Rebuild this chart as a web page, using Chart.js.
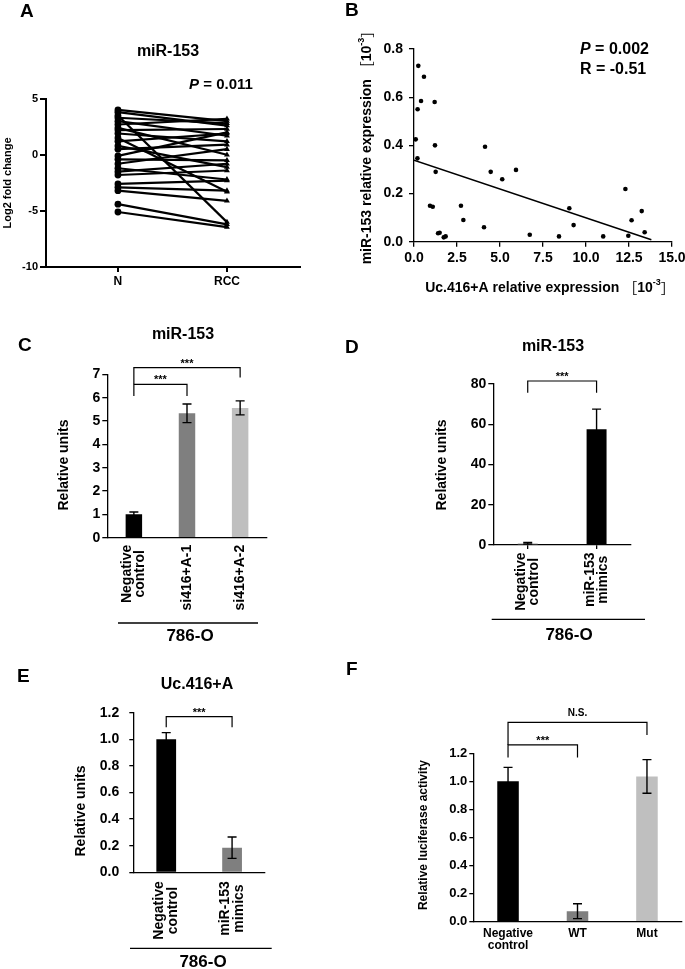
<!DOCTYPE html>
<html>
<head>
<meta charset="utf-8">
<script src="https://cdn.jsdelivr.net/npm/chart.js@4.4.0/dist/chart.umd.min.js"></script>
<style>
  html, body { margin: 0; padding: 0; background: #fff; }
  #wrap { position: relative; width: 685px; height: 969px; overflow: hidden; }
  #wrap canvas { position: absolute; left: 0; top: 0; }
</style>
</head>
<body>
<div id="wrap"></div>
<script>
// ===== data =====
// A: paired log2 fold change, N vs RCC
const pairLabels = ['N', 'RCC'];
const nValues   = [4.0, 3.8, 3.5, 3.3, 3.0, 2.7, 2.4, 2.2, 1.9, 1.5, 1.2, 0.8, 0.5, -0.1, -0.4, -0.8, -1.2, -1.5, -1.8, -2.6, -2.9, -3.2, -4.4, -5.1];
const rccValues = [3.0, 2.6, -6.0, 2.8, 1.7, 3.2, 0.0, 2.3, 1.2, -3.3, 1.9, -1.1, 0.9, 2.0, -0.5, 0.5, -2.2, -0.8, -1.4, -2.3, -3.2, -4.1, -6.2, -6.45];

// B: scatter, Uc.416+A vs miR-153
const scatterX = [0.25, 0.58, 0.41, 0.21, 1.2, 0.1, 0.2, 1.22, 1.26, 0.93, 1.09, 1.4, 1.49, 1.73, 1.84, 2.73, 2.87, 4.13, 4.46, 5.13, 5.93, 4.07, 6.73, 8.43, 9.03, 9.28, 11.0, 12.29, 12.46, 12.65, 13.24, 13.41];
const scatterY = [0.73, 0.685, 0.584, 0.55, 0.58, 0.425, 0.346, 0.40, 0.29, 0.149, 0.145, 0.035, 0.037, 0.018, 0.022, 0.149, 0.09, 0.394, 0.29, 0.259, 0.298, 0.06, 0.029, 0.022, 0.139, 0.069, 0.022, 0.219, 0.025, 0.089, 0.127, 0.039];
const trendX = [0, 13.8];
const trendY = [0.338, 0.008];

// C: miR-153 after si416+A
const cLabels = [['Negative', 'control'], ['si416+A-1'], ['si416+A-2']];
const cMeans  = [1.0, 5.33, 5.56];
const cErrors = [0.1, 0.4, 0.3];
const cBrackets = [
  { from: 0, to: 1, top: 6.57, leftEnd: 6.07, rightEnd: 6.07, label: '***' },
  { from: 0, to: 2, top: 7.29, leftEnd: 6.57, rightEnd: 6.86, label: '***' }
];

// D: miR-153 after mimics
const dLabels = [['Negative', 'control'], ['miR-153', 'mimics']];
const dMeans  = [0.9, 57.5];
const dErrors = [0.4, 10];
const dBrackets = [{ from: 0, to: 1, top: 81.5, leftEnd: 75.7, rightEnd: 75.7, label: '***' }];

// E: Uc.416+A after mimics
const eLabels = [['Negative', 'control'], ['miR-153', 'mimics']];
const eMeans  = [1.0, 0.185];
const eErrors = [0.05, 0.08];
const eBrackets = [{ from: 0, to: 1, top: 1.17, leftEnd: 1.09, rightEnd: 1.09, label: '***' }];

// F: luciferase
const fLabels = [['Negative', 'control'], ['WT'], ['Mut']];
const fMeans  = [1.0, 0.075, 1.035];
const fErrors = [0.1, 0.053, 0.12];
const fBrackets = [
  { from: 0, to: 2, top: 1.42, leftEnd: 1.26, rightEnd: 1.33, label: 'N.S.' },
  { from: 0, to: 1, top: 1.26, leftEnd: 1.17, rightEnd: 1.17, label: '***' }
];

const BLACK = '#000000', GRAY = '#7f7f7f', LIGHT = '#bfbfbf';

// ===== helpers =====
const CW = 800, CH = 1000;
const FONT = "'Liberation Sans', Arial, Helvetica, sans-serif";
const CJK = "'Noto Sans CJK JP', 'Noto Sans CJK SC', sans-serif";

function fontOf(p) {
  return (p.italic ? 'italic ' : '') + (p.weight || 'bold') + ' ' + p.size + 'px ' + (p.family || FONT);
}

function drawRich(ctx, parts, x, y, align, rot) {
  ctx.save();
  ctx.translate(x, y);
  if (rot) ctx.rotate(rot);
  let total = 0;
  parts.forEach(p => { ctx.font = fontOf(p); p.w = ctx.measureText(p.t).width; total += p.w; });
  let cx = align === 'center' ? -total / 2 : align === 'right' ? -total : 0;
  ctx.textBaseline = 'middle';
  ctx.textAlign = 'left';
  ctx.fillStyle = '#000';
  parts.forEach(p => { ctx.font = fontOf(p); ctx.fillText(p.t, cx, p.dy || 0); cx += p.w; });
  ctx.restore();
}

const t = (s, size, extra) => [Object.assign({ t: s, size }, extra || {})];

const annot = {
  id: 'annot',
  afterDraw(chart) {
    const o = chart.options.plugins.annot || {};
    const ctx = chart.ctx;
    const xs = chart.scales.x, ys = chart.scales.y;
    const area = chart.chartArea;
    ctx.save();
    ctx.strokeStyle = '#000';
    ctx.fillStyle = '#000';

    // error bars
    if (o.errors) {
      ctx.lineWidth = 1.4;
      o.errors.means.forEach((m, i) => {
        const e = o.errors.errs[i];
        const x = xs.getPixelForValue(i);
        const yt = ys.getPixelForValue(m + e), yb = ys.getPixelForValue(m - e);
        ctx.beginPath();
        ctx.moveTo(x, yt); ctx.lineTo(x, yb);
        ctx.moveTo(x - 4.5, yt); ctx.lineTo(x + 4.5, yt);
        ctx.moveTo(x - 4.5, yb); ctx.lineTo(x + 4.5, yb);
        ctx.stroke();
      });
    }

    // significance brackets
    (o.brackets || []).forEach(b => {
      const xa = xs.getPixelForValue(b.from), xb = xs.getPixelForValue(b.to);
      const yt = ys.getPixelForValue(b.top);
      ctx.lineWidth = 1.2;
      ctx.beginPath();
      ctx.moveTo(xa, ys.getPixelForValue(b.leftEnd));
      ctx.lineTo(xa, yt);
      ctx.lineTo(xb, yt);
      ctx.lineTo(xb, ys.getPixelForValue(b.rightEnd));
      ctx.stroke();
      const stars = b.label === '***';
      drawRich(ctx, t(b.label, stars ? 11 : 10), (xa + xb) / 2, yt - (stars ? 4 : 9), 'center');
    });

    // category labels
    if (o.cats) {
      const c = o.cats;
      ctx.font = fontOf({ size: c.size });
      c.labels.forEach((lines, i) => {
        const x = xs.getPixelForValue(i);
        const top = area.bottom + c.gap;
        ctx.save();
        ctx.textAlign = 'center';
        ctx.textBaseline = 'middle';
        if (c.rot) {
          const maxW = Math.max(...lines.map(l => ctx.measureText(l).width));
          ctx.translate(x, top + maxW / 2);
          ctx.rotate(-Math.PI / 2);
          lines.forEach((l, k) => ctx.fillText(l, 0, (k - (lines.length - 1) / 2) * c.lh));
        } else {
          lines.forEach((l, k) => ctx.fillText(l, x, top + k * c.lh));
        }
        ctx.restore();
      });
    }

    // cell-line group line
    if (o.group) {
      const g = o.group;
      ctx.lineWidth = 1.3;
      ctx.beginPath();
      ctx.moveTo(g.x0, g.y); ctx.lineTo(g.x1, g.y);
      ctx.stroke();
      drawRich(ctx, t(g.label, 17), g.lx, g.ly, 'center');
    }

    // free texts
    (o.texts || []).forEach(tx => drawRich(ctx, tx.parts, tx.x, tx.y, tx.align || 'center', tx.rot || 0));
    ctx.restore();
  }
};

function makeChart(area, yW, xH, config) {
  const cv = document.createElement('canvas');
  cv.width = CW; cv.height = CH;
  cv.style.width = CW + 'px'; cv.style.height = CH + 'px';
  document.getElementById('wrap').appendChild(cv);
  const o = config.options;
  o.responsive = false;
  o.animation = false;
  o.devicePixelRatio = 1;
  o.layout = { padding: { left: area[0] - yW, top: area[1], right: CW - area[2], bottom: CH - area[3] - xH } };
  o.scales.x.afterFit = s => { s.height = xH; };
  o.scales.y.afterFit = s => { s.width = yW; };
  o.plugins = Object.assign({ legend: { display: false }, tooltip: { enabled: false } }, o.plugins);
  config.plugins = [annot];
  return new Chart(cv, config);
}

function yAxis(min, max, step, size, tickLen, pad, decimals, bw) {
  return {
    min, max,
    border: { color: '#000', width: bw || 1.3 },
    grid: { drawOnChartArea: false, drawTicks: true, tickLength: tickLen, color: '#000', lineWidth: bw || 1.3 },
    ticks: {
      stepSize: step, color: '#000', padding: pad,
      font: { family: FONT, size, weight: 'bold' },
      callback: v => decimals ? Number(v).toFixed(decimals) : String(Math.round(v))
    }
  };
}

function catAxis(tickLen, atCenters) {
  return {
    type: 'category',
    offset: true,
    border: { color: '#000', width: 1.3 },
    grid: { drawOnChartArea: false, drawTicks: tickLen > 0, tickLength: tickLen, color: '#000', lineWidth: 1.3, offset: !atCenters },
    ticks: { display: false }
  };
}

function barDataset(means, colors, pct) {
  return {
    data: means,
    backgroundColor: colors,
    borderWidth: 0,
    barPercentage: pct,
    categoryPercentage: 1
  };
}

// ===== A =====
makeChart([46, 98.7, 300, 267], 40, 30, {
  type: 'line',
  data: {
    datasets: nValues.map((n, i) => ({
      data: [{ x: 0, y: n }, { x: 1, y: rccValues[i] }],
      borderColor: BLACK, backgroundColor: BLACK, borderWidth: 2.2,
      pointStyle: ['circle', 'triangle'], pointRadius: 3.4, pointBorderWidth: 0
    }))
  },
  options: {
    scales: {
      x: {
        type: 'linear', min: -0.66, max: 1.67,
        afterBuildTicks: s => { s.ticks = pairLabels.map((_, i) => ({ value: i })); },
        border: { color: '#000', width: 2 },
        grid: { drawOnChartArea: false, drawTicks: true, tickLength: 5, color: '#000', lineWidth: 2 },
        ticks: { color: '#000', padding: 2, font: { family: FONT, size: 12, weight: 'bold' }, callback: v => pairLabels[v] }
      },
      y: yAxis(-10, 5, 5, 11, 6, 2, 0, 2)
    },
    plugins: {
      annot: {
        texts: [
          { parts: t('A', 19), x: 20, y: 12, align: 'left' },
          { parts: t('miR-153', 16), x: 168, y: 52 },
          { parts: [{ t: 'P', size: 15, italic: true }, { t: ' = 0.011', size: 15 }], x: 221, y: 85 },
          { parts: t('Log2 fold change', 11), x: 8, y: 183, rot: -Math.PI / 2 }
        ]
      }
    }
  }
});

// ===== B =====
const expParts = (lead) => [
  { t: lead + ' ', size: 14 },
  { t: '［', size: 14, family: CJK, weight: 'normal' },
  { t: '10', size: 14 },
  { t: '-3', size: 9, dy: -5 },
  { t: '］', size: 14, family: CJK, weight: 'normal' }
];
makeChart([414, 49, 672, 241.7], 40, 30, {
  type: 'scatter',
  data: {
    datasets: [
      {
        data: scatterX.map((x, i) => ({ x, y: scatterY[i] })),
        backgroundColor: BLACK, pointRadius: 2.3, pointBorderWidth: 0
      },
      {
        type: 'line',
        data: trendX.map((x, i) => ({ x, y: trendY[i] })),
        borderColor: BLACK, borderWidth: 1.5, pointRadius: 0
      }
    ]
  },
  options: {
    scales: {
      x: {
        type: 'linear', min: 0, max: 15,
        border: { color: '#000', width: 1.3 },
        grid: { drawOnChartArea: false, drawTicks: true, tickLength: 5, color: '#000', lineWidth: 1.3 },
        ticks: { stepSize: 2.5, color: '#000', padding: 3, font: { family: FONT, size: 14, weight: 'bold' }, callback: v => Number(v).toFixed(1) }
      },
      y: yAxis(0, 0.8, 0.2, 14, 5, 6, 1)
    },
    plugins: {
      annot: {
        texts: [
          { parts: t('B', 19), x: 345, y: 11, align: 'left' },
          { parts: [{ t: 'P', size: 16, italic: true }, { t: ' = 0.002', size: 16 }], x: 580, y: 50, align: 'left' },
          { parts: t('R = -0.51', 16), x: 580, y: 70, align: 'left' },
          { parts: expParts('miR-153 relative expression'), x: 367, y: 144, rot: -Math.PI / 2 },
          { parts: expParts('Uc.416+A relative expression'), x: 550, y: 288 }
        ]
      }
    }
  }
});

// ===== C =====
makeChart([107.3, 374.3, 266.7, 537.7], 40, 10, {
  type: 'bar',
  data: { labels: cLabels.map(l => l.join(' ')), datasets: [barDataset(cMeans, [BLACK, GRAY, LIGHT], 0.31)] },
  options: {
    scales: { x: catAxis(0), y: yAxis(0, 7, 1, 14, 5, 2, 0) },
    plugins: {
      annot: {
        errors: { means: cMeans, errs: cErrors },
        brackets: cBrackets,
        cats: { labels: cLabels, rot: true, gap: 7, size: 14, lh: 13.5 },
        group: { x0: 118, x1: 258, y: 623, label: '786-O', lx: 190, ly: 636 },
        texts: [
          { parts: t('C', 19), x: 18, y: 346, align: 'left' },
          { parts: t('miR-153', 16), x: 183, y: 335 },
          { parts: t('Relative units', 14), x: 64, y: 465, rot: -Math.PI / 2 }
        ]
      }
    }
  }
});

// ===== D =====
makeChart([493.3, 384, 631, 545], 40, 10, {
  type: 'bar',
  data: { labels: dLabels.map(l => l.join(' ')), datasets: [barDataset(dMeans, [LIGHT, BLACK], 0.29)] },
  options: {
    scales: { x: catAxis(4, true), y: yAxis(0, 80, 20, 14, 5, 2, 0) },
    plugins: {
      annot: {
        errors: { means: dMeans, errs: dErrors },
        brackets: dBrackets,
        cats: { labels: dLabels, rot: true, gap: 7.5, size: 14, lh: 13.5 },
        group: { x0: 491.7, x1: 645, y: 619.3, label: '786-O', lx: 569, ly: 635 },
        texts: [
          { parts: t('D', 19), x: 345, y: 348, align: 'left' },
          { parts: t('miR-153', 16), x: 553, y: 347 },
          { parts: t('Relative units', 14), x: 442, y: 465, rot: -Math.PI / 2 }
        ]
      }
    }
  }
});

// ===== E =====
makeChart([133.3, 712.7, 265, 872.3], 40, 10, {
  type: 'bar',
  data: { labels: eLabels.map(l => l.join(' ')), datasets: [barDataset(eMeans, [BLACK, GRAY], 0.30)] },
  options: {
    scales: { x: catAxis(0), y: yAxis(0, 1.2, 0.2, 14, 4, 10, 1) },
    plugins: {
      annot: {
        errors: { means: eMeans, errs: eErrors },
        brackets: eBrackets,
        cats: { labels: eLabels, rot: true, gap: 9, size: 14, lh: 13.5 },
        group: { x0: 130, x1: 271.7, y: 948.3, label: '786-O', lx: 203, ly: 962 },
        texts: [
          { parts: t('E', 19), x: 17, y: 677, align: 'left' },
          { parts: t('Uc.416+A', 16), x: 197, y: 685 },
          { parts: t('Relative units', 14), x: 81, y: 811, rot: -Math.PI / 2 }
        ]
      }
    }
  }
});

// ===== F =====
makeChart([473.3, 753.3, 681.7, 921.7], 40, 10, {
  type: 'bar',
  data: { labels: fLabels.map(l => l.join(' ')), datasets: [barDataset(fMeans, [BLACK, GRAY, LIGHT], 0.31)] },
  options: {
    scales: { x: catAxis(0), y: yAxis(0, 1.2, 0.2, 13, 4, 2, 1) },
    plugins: {
      annot: {
        errors: { means: fMeans, errs: fErrors },
        brackets: fBrackets,
        cats: { labels: fLabels, rot: false, gap: 11.5, size: 12, lh: 12 },
        texts: [
          { parts: t('F', 19), x: 346, y: 670, align: 'left' },
          { parts: t('Relative luciferase activity', 12), x: 423.5, y: 835, rot: -Math.PI / 2 }
        ]
      }
    }
  }
});
</script>
</body>
</html>
